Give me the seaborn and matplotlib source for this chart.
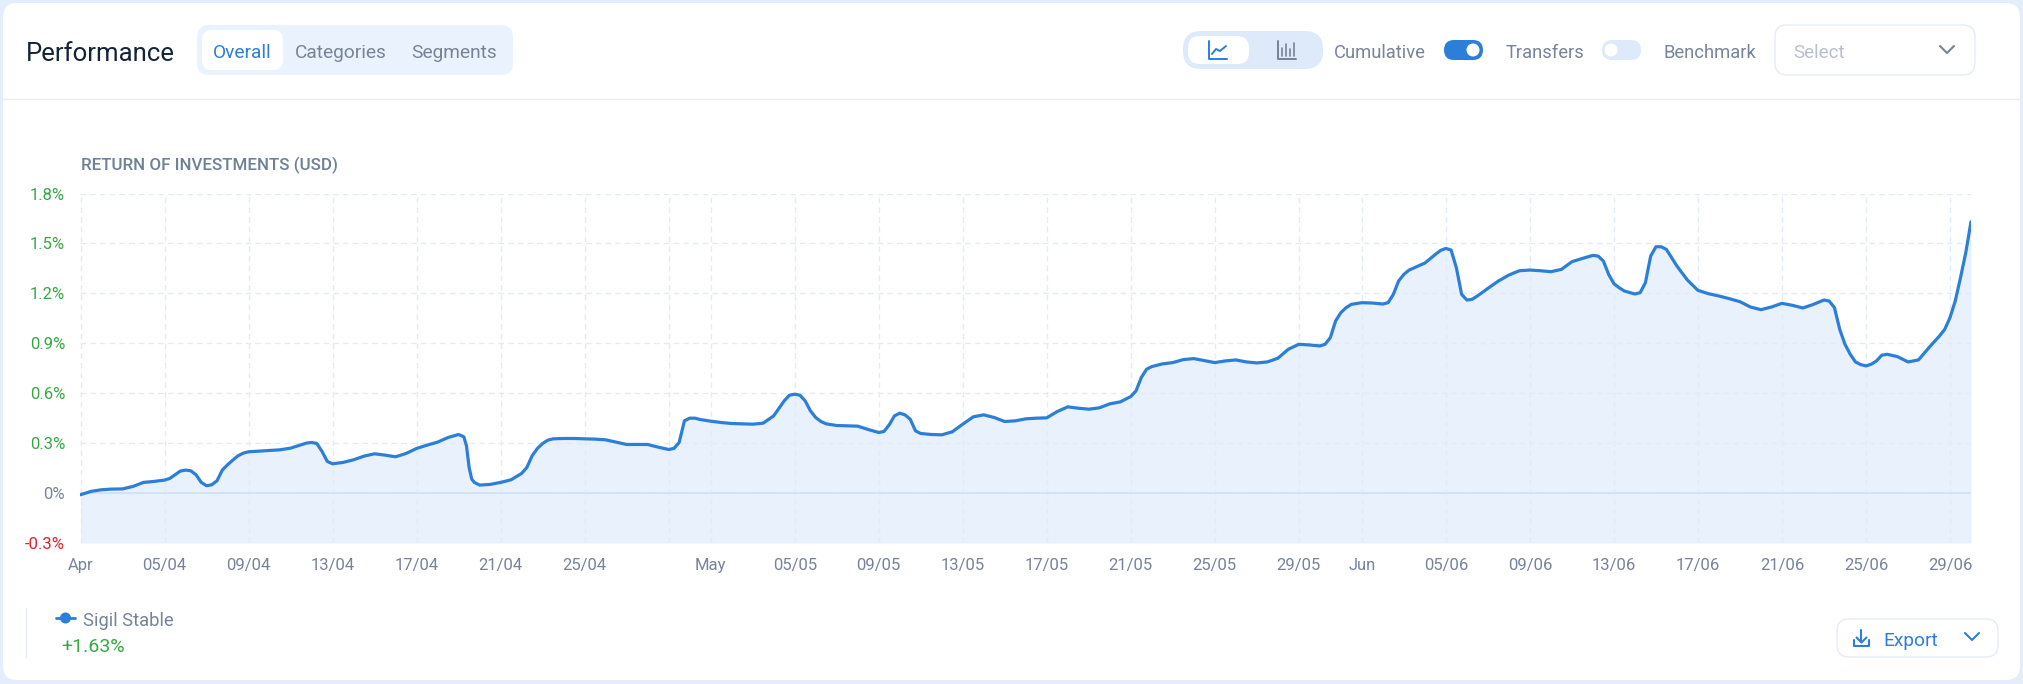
import matplotlib
matplotlib.use("Agg")
import matplotlib.pyplot as plt
from matplotlib.patches import FancyBboxPatch, Circle
import pandas as pd
import seaborn as sns

# values, one every 12 hours from 1 Apr to 30 Jun
returns_apr = [
    -0.01, 0.01, 0.02, 0.024, 0.025, 0.04, 0.064, 0.07, 0.078, 0.11,
    0.138, 0.11, 0.044, 0.074, 0.17, 0.224, 0.248, 0.252, 0.256, 0.26,
    0.27, 0.29, 0.304, 0.25, 0.176, 0.184, 0.20, 0.222, 0.236, 0.228,
    0.218, 0.238, 0.268, 0.288, 0.306, 0.334, 0.352, 0.154, 0.048, 0.052,
    0.064, 0.08, 0.118, 0.224, 0.298, 0.326, 0.328, 0.328, 0.326, 0.324,
    0.32, 0.306, 0.292, 0.292, 0.292, 0.276, 0.262, 0.304, 0.45, 0.442,
]
returns_may = [
    0.432, 0.424, 0.418, 0.416, 0.414, 0.42, 0.464, 0.554, 0.594, 0.554,
    0.454, 0.416, 0.406, 0.404, 0.402, 0.382, 0.364, 0.41, 0.48, 0.444,
    0.358, 0.352, 0.35, 0.368, 0.414, 0.458, 0.47, 0.454, 0.43, 0.434,
    0.446, 0.45, 0.452, 0.49, 0.518, 0.51, 0.504, 0.512, 0.536, 0.548,
    0.58, 0.694, 0.76, 0.776, 0.784, 0.802, 0.808, 0.796, 0.784, 0.794,
    0.80, 0.788, 0.782, 0.788, 0.81, 0.864, 0.894, 0.89, 0.884, 0.934,
    1.084, 1.134,
]
returns_jun = [
    1.144, 1.142, 1.136, 1.194, 1.314, 1.354, 1.382, 1.434, 1.47, 1.354,
    1.16, 1.184, 1.23, 1.274, 1.31, 1.336, 1.34, 1.336, 1.33, 1.344,
    1.39, 1.41, 1.428, 1.394, 1.258, 1.214, 1.196, 1.264, 1.48, 1.464,
    1.364, 1.28, 1.218, 1.198, 1.184, 1.168, 1.15, 1.118, 1.102, 1.118,
    1.14, 1.128, 1.112, 1.134, 1.16, 1.114, 0.894, 0.788, 0.764, 0.794,
    0.834, 0.82, 0.788, 0.80, 0.874, 0.944, 1.054, 1.294, 1.63,
]

# extra readings around the sharp turns: days since 1 Apr, then the value there
turn_days = [
    4.25, 4.75, 5.25, 5.75, 6.25, 6.75, 7.25, 7.75, 10.75, 11.25, 11.75,
    18.25, 18.375, 18.625, 18.75, 21.25, 21.75, 22.25, 28.25, 28.75, 29.25,
    33.75, 34.25, 34.75, 35.25, 38.25, 38.75, 39.25, 39.75, 50.25, 50.75,
    59.25, 59.75, 60.25, 62.25, 62.75, 63.25, 64.75, 65.25, 65.75, 66.25,
    72.25, 72.75, 73.25, 74.25, 74.75, 75.25, 83.25, 83.75, 84.25, 84.75,
    85.25, 85.75, 88.75, 89.25, 89.75,
]
turn_values = [
    0.088, 0.132, 0.134, 0.064, 0.05, 0.138, 0.198, 0.24, 0.30, 0.298, 0.19,
    0.338, 0.284, 0.084, 0.064, 0.154, 0.268, 0.318, 0.268, 0.434, 0.45,
    0.588, 0.588, 0.494, 0.43, 0.37, 0.464, 0.47, 0.374, 0.614, 0.744,
    0.894, 1.034, 1.114, 1.144, 1.274, 1.34, 1.458, 1.46, 1.194, 1.164,
    1.424, 1.314, 1.234, 1.204, 1.424, 1.48, 1.154, 0.984, 0.834, 0.772,
    0.774, 0.828, 0.984, 1.154, 1.444,
]

tick_days = ["04-01", "04-05", "04-09", "04-13", "04-17", "04-21", "04-25", "04-29",
             "05-01", "05-05", "05-09", "05-13", "05-17", "05-21", "05-25", "05-29",
             "06-01", "06-05", "06-09", "06-13", "06-17", "06-21", "06-25", "06-29", "06-30"]
tick_labels = ["Apr", "05/04", "09/04", "13/04", "17/04", "21/04", "25/04", "",
               "May", "05/05", "09/05", "13/05", "17/05", "21/05", "25/05", "29/05",
               "Jun", "05/06", "09/06", "13/06", "17/06", "21/06", "25/06", "29/06", ""]
y_ticks = [-0.3, 0, 0.3, 0.6, 0.9, 1.2, 1.5, 1.8]
y_labels = ["-0.3%", "0%", "0.3%", "0.6%", "0.9%", "1.2%", "1.5%", "1.8%"]

BLUE = "#2b7fd8"
GREY = "#76839a"
GREEN = "#36a845"
RED = "#e0202f"
EDGE = "#e6ebf5"
W, H = 2024, 684

sns.set_theme(style="white")
plt.rcParams["font.family"] = ["Roboto", "DejaVu Sans"]

fig = plt.figure(figsize=(W / 100, H / 100), dpi=100, facecolor="#e3edfb")

# page furniture, drawn in pixel coordinates
ui = fig.add_axes([0, 0, 1, 1], zorder=0)
ui.set_xlim(0, W)
ui.set_ylim(H, 0)
ui.axis("off")


def box(x0, y0, x1, y1, r, fc, ec="none", lw=1):
    ui.add_patch(FancyBboxPatch((x0, y0), x1 - x0, y1 - y0, boxstyle=f"round,pad=0,rounding_size={r}",
                                fc=fc, ec=ec, lw=lw))


def label(x, y, s, color=GREY, size=13.2, ha="left", **kw):
    ui.text(x, y, s, color=color, fontsize=size, ha=ha, va="center", **kw)


def chevron(x, y, color):
    ui.plot([x - 7, x, x + 7], [y - 4, y + 3, y - 4], color=color, lw=1.5, solid_capstyle="round")


box(3, 3, 2020, 680, 14, "white")
ui.plot([3, 2020], [98.5, 98.5], color=EDGE, lw=1)

label(26, 54, "Performance", color="#14233a", size=18.5)
box(197, 25, 513, 75, 12, "#eaf3fd")
box(202, 30, 283, 70, 10, "white")
label(242, 53.5, "Overall", color=BLUE, size=13.8, ha="center")
label(341, 53.5, "Categories", size=13.8, ha="center")
label(454, 53.5, "Segments", size=13.8, ha="center")

box(1183, 31, 1323, 69, 18, "#deeafa")
box(1188, 36, 1249, 64, 12, "white")
ui.plot([1209, 1209, 1227], [41, 59, 59], color=BLUE, lw=1.4)
ui.plot([1212, 1216, 1220, 1226], [54, 49, 51, 46], color=BLUE, lw=1.4)
ui.plot([1278, 1278, 1296], [41, 59, 59], color=GREY, lw=1.4)
for bar_x, bar_top in zip([1282, 1286, 1290, 1294], [48, 44, 49, 43]):
    ui.plot([bar_x, bar_x], [bar_top, 56], color=GREY, lw=1.2)

label(1334, 53, "Cumulative")
box(1444, 40, 1483, 60, 10, BLUE)
ui.add_patch(Circle((1473, 50), 6.5, fc="white", ec="none"))
label(1506, 53, "Transfers")
box(1602, 40, 1641, 60, 10, "#deeafa")
ui.add_patch(Circle((1611, 50), 6.5, fc="white", ec="none"))
label(1664, 53, "Benchmark")
box(1775, 25, 1975, 75, 12, "white", ec=EDGE)
label(1793, 53.5, "Select", color="#b9c0cc", size=13.5)
chevron(1947, 50, GREY)

# legend and export button under the chart
ui.plot([26, 26], [608, 657], color=EDGE, lw=1)
ui.plot([56, 75], [618, 618], color=BLUE, lw=2)
ui.add_patch(Circle((65.5, 618), 5.5, fc=BLUE, ec="none"))
label(83, 621, "Sigil Stable")
label(61, 647, "+1.63%", color=GREEN, size=14)

box(1837, 619, 1998, 657, 12, "white", ec=EDGE)
ui.plot([1861.5, 1861.5], [630, 642], color=BLUE, lw=1.5)
ui.plot([1856.5, 1861.5, 1866.5], [637.5, 642.5, 637.5], color=BLUE, lw=1.5)
ui.plot([1854, 1854, 1869, 1869], [640, 646, 646, 640], color=BLUE, lw=1.5)
label(1883, 641.5, "Export", color=BLUE, size=13.8)
chevron(1972, 637, BLUE)

label(81, 165.5, "RETURN OF INVESTMENTS (USD)", color="#6f8199", size=12.2, fontweight="medium")

# the chart itself
half_days = pd.DataFrame({
    "date": pd.date_range("2024-04-01", periods=181, freq="12h"),
    "value": returns_apr + returns_may + returns_jun,
})
turns = pd.DataFrame({
    "date": pd.Timestamp("2024-04-01") + pd.to_timedelta(turn_days, unit="D"),
    "value": turn_values,
})
df = pd.concat([half_days, turns]).sort_values("date")

ax = fig.add_axes([80.5 / W, 1 - 543 / H, (1971 - 80.5) / W, (543 - 193.5) / H], zorder=1)
ax.patch.set_alpha(0)
ax.fill_between(df["date"], df["value"], -0.3, color="#e9f2fc", lw=0, zorder=1)
ax.axhline(0, color="#cfe1f7", lw=1.2, zorder=2.6)
sns.lineplot(data=df, x="date", y="value", ax=ax, color=BLUE, linewidth=2.3, zorder=3,
             solid_joinstyle="round", errorbar=None)

ax.set_xlim(df["date"].iloc[0], df["date"].iloc[-1])
ax.set_ylim(-0.3, 1.8)
ax.set_xticks(pd.to_datetime(["2024-" + d for d in tick_days]))
ax.set_xticklabels(tick_labels)
ax.set_yticks(y_ticks)
ax.set_yticklabels(y_labels)
ax.set_xlabel("")
ax.set_ylabel("")
ax.set_axisbelow(False)
ax.grid(True, color="#e3ebf6", lw=1, ls=(0, (4, 3)), zorder=2.5)
ax.tick_params(axis="x", length=0, pad=11, labelsize=12, labelcolor=GREY)
ax.tick_params(axis="y", length=0, pad=11, labelsize=12)
for tick, value in zip(ax.get_yticklabels(), y_ticks):
    tick.set_color(RED if value < 0 else GREEN if value > 0 else GREY)
sns.despine(ax=ax, left=True, bottom=True)

fig.savefig("out.png", dpi=100, facecolor=fig.get_facecolor())
